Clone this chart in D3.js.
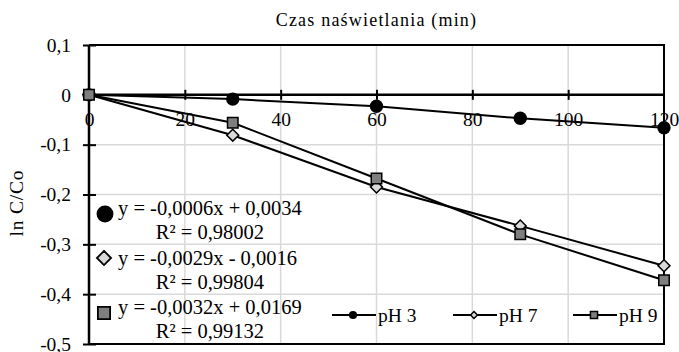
<!DOCTYPE html>
<html>
<head>
<meta charset="utf-8">
<script src="https://cdn.jsdelivr.net/npm/d3@7"></script>
<style>
  html, body { margin: 0; padding: 0; background: #fff; }
  svg text { font-family: "Times New Roman", "Liberation Serif", "DejaVu Serif", serif !important; fill: #000; }
</style>
</head>
<body>
<svg id="chart" width="679" height="352"></svg>
<script>
// Irradiation time (min) and ln(C/Co) for each pH
const times = [0, 30, 60, 90, 120];
const pH3 = [0, -0.0085, -0.023, -0.047, -0.066];
const pH7 = [0, -0.081, -0.185, -0.263, -0.343];
const pH9 = [0, -0.056, -0.168, -0.280, -0.372];

const seriesNames = ["pH 3", "pH 7", "pH 9"];
const equations = ["y = -0,0006x + 0,0034", "y = -0,0029x - 0,0016", "y = -0,0032x + 0,0169"];
const rSquared = ["R² = 0,98002", "R² = 0,99804", "R² = 0,99132"];

const xTicks = [0, 20, 40, 60, 80, 100, 120];
const yTicks = [0.1, 0, -0.1, -0.2, -0.3, -0.4, -0.5];

const svg = d3.select("#chart");
const L = 89, R = 664, T = 45, B = 344;

const x = d3.scaleLinear().domain([0, 120]).range([L, R]);
const y = d3.scaleLinear().domain([-0.5, 0.1]).range([B, T]);
const fmt = v => (Math.abs(v) < 1e-9 ? "0" : d3.format(".1f")(v).replace(".", ",").replace("−", "-"));

// gridlines
const grid = svg.append("g");
grid.selectAll(".gx").data(xTicks.filter(d => d > 0 && d < 120)).join("line")
  .attr("x1", d => x(d)).attr("x2", d => x(d)).attr("y1", T).attr("y2", B)
  .attr("stroke", "#d9d9d9").attr("stroke-width", 1.5);
grid.selectAll(".gy").data(yTicks.filter(d => d < 0 && d > -0.5)).join("line")
  .attr("x1", L).attr("x2", R).attr("y1", d => y(d)).attr("y2", d => y(d))
  .attr("stroke", "#d9d9d9").attr("stroke-width", 1.5);

// plot frame (top, right, bottom)
svg.append("path")
  .attr("d", `M${L},${T}H${R}V${B}H${L}`)
  .attr("fill", "none").attr("stroke", "#000").attr("stroke-width", 2);

// y axis on the left
const yAxis = svg.append("g").attr("transform", `translate(${L},0)`)
  .call(d3.axisLeft(y).tickValues(yTicks).tickSize(6).tickPadding(12).tickFormat(fmt));
yAxis.attr("font-family", null).attr("font-size", null);
yAxis.select(".domain").attr("stroke-width", 2.5).attr("d", `M0,${T}V${B}`);
yAxis.selectAll(".tick line").attr("x1", -6).attr("x2", 7).attr("stroke-width", 2);
yAxis.selectAll(".tick text").attr("font-size", 19.5);

// x axis crossing at y = 0
const xAxis = svg.append("g").attr("transform", `translate(0,${y(0)})`)
  .call(d3.axisBottom(x).tickValues(xTicks).tickSize(5).tickPadding(12).tickFormat(d3.format("d")));
xAxis.attr("font-family", null).attr("font-size", null);
xAxis.select(".domain").attr("stroke-width", 2.5).attr("d", `M${L},0H${R}`);
xAxis.selectAll(".tick line").attr("y1", -5).attr("y2", 5).attr("stroke-width", 2);
xAxis.selectAll(".tick text").attr("font-size", 19.5);
xAxis.selectAll(".tick").filter(d => d === 0 || d === 120).select("line").remove();

// titles
svg.append("text").attr("x", (L + R) / 2).attr("y", 26).attr("text-anchor", "middle")
  .attr("font-size", 18).attr("letter-spacing", 1.2).text("Czas naświetlania (min)");
svg.append("text").attr("transform", `translate(23,203) rotate(-90)`)
  .attr("text-anchor", "middle").attr("font-size", 19.5).attr("letter-spacing", 0.8).text("ln C/Co");

// marker shapes: pH 3 circle, pH 7 diamond, pH 9 square
const markerDefs = [
  { type: d3.symbolCircle, fill: "#000", plot: 140, eq: 225, leg: 52 },
  { type: d3.symbolDiamond2, fill: "#d9d9d9", plot: 90, eq: 128, leg: 30 },
  { type: d3.symbolSquare2, fill: "#7f7f7f", plot: 140, eq: 190, leg: 64 }
];
const series = [pH3, pH7, pH9];

const line = d3.line().x((d, i) => x(times[i])).y(d => y(d));
series.forEach(vals => {
  svg.append("path").datum(vals).attr("d", line)
    .attr("fill", "none").attr("stroke", "#000").attr("stroke-width", 2);
});
series.forEach((vals, k) => {
  const m = markerDefs[k];
  svg.selectAll(null).data(vals).join("path")
    .attr("transform", (d, i) => `translate(${x(times[i])},${y(d)})`)
    .attr("d", d3.symbol(m.type, m.plot)())
    .attr("fill", m.fill).attr("stroke", "#000").attr("stroke-width", k === 0 ? 0 : 1.5);
});

// trendline equations
const eqTop = [208, 258, 307];
const eqMarkerY = [214, 258, 313];
equations.forEach((eq, k) => {
  const m = markerDefs[k];
  svg.append("path")
    .attr("transform", `translate(${k === 0 ? 105 : 104},${eqMarkerY[k]})`)
    .attr("d", d3.symbol(m.type, m.eq)())
    .attr("fill", m.fill).attr("stroke", "#000").attr("stroke-width", k === 0 ? 0 : 1.8);
  svg.append("text").attr("x", 118).attr("y", eqTop[k] + 7).attr("font-size", 20.5).text(eq);
  svg.append("text").attr("x", 210).attr("y", eqTop[k] + 31).attr("text-anchor", "middle")
    .attr("font-size", 20.5).text(rSquared[k]);
});

// series legend
const legX = [332, 453, 573];
const legY = 315;
seriesNames.forEach((name, k) => {
  const m = markerDefs[k];
  const g = svg.append("g").attr("transform", `translate(${legX[k]},${legY})`);
  g.append("line").attr("x1", 0).attr("x2", 44).attr("stroke", "#000").attr("stroke-width", 2);
  g.append("path").attr("transform", "translate(21,0)")
    .attr("d", d3.symbol(m.type, m.leg)())
    .attr("fill", m.fill).attr("stroke", "#000").attr("stroke-width", k === 0 ? 0 : 1.5);
  g.append("text").attr("x", 46).attr("y", 7).attr("font-size", 19.5).text(name);
});
</script>
</body>
</html>
